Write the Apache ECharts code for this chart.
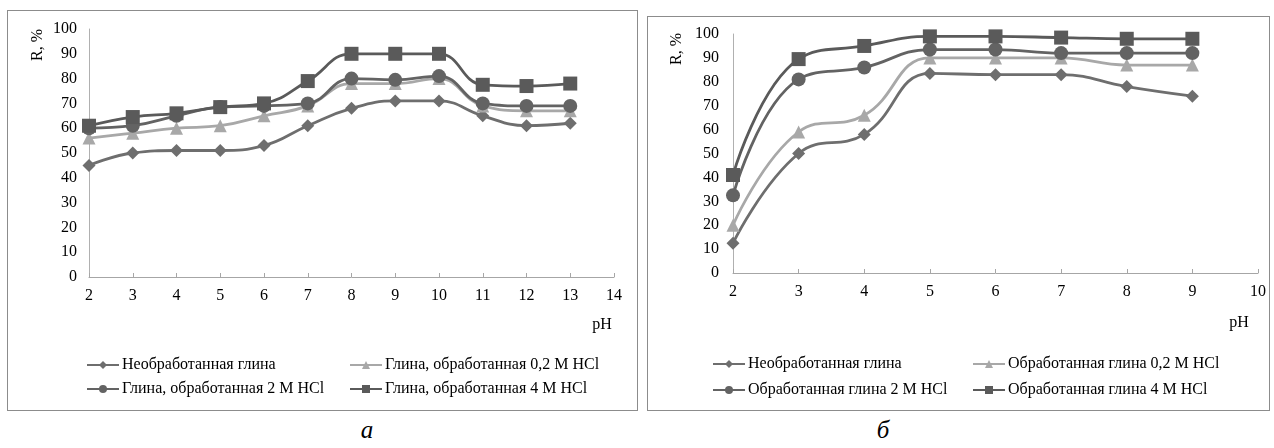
<!DOCTYPE html>
<html>
<head>
<meta charset="utf-8">
<script src="https://cdn.jsdelivr.net/npm/echarts@6/dist/echarts.min.js"></script>
<style>
  body { margin: 0; background: #fff; width: 1274px; height: 448px; position: relative; overflow: hidden; }
  .panel { position: absolute; box-sizing: border-box; border: 1px solid #8c8c8c; }
  #chartA { left: 7px; top: 10px; width: 631px; height: 401px; }
  #chartB { left: 647px; top: 16px; width: 623px; height: 395px; }
  .cap { position: absolute; font-family: "Liberation Serif", serif; font-style: italic; font-size: 25px; color: #000; transform: translate(-50%, -50%); }
</style>
</head>
<body>
<div id="chartA" class="panel"></div>
<div id="chartB" class="panel"></div>
<div class="cap" style="left:367px; top:430px;">a</div>
<div class="cap" style="left:883px; top:430px;">б</div>
<script>
// панель а
const phA = [2, 3, 4, 5, 6, 7, 8, 9, 10, 11, 12, 13]
const rawA = [45, 50, 51, 51, 53, 61, 68, 71, 71, 65, 61, 62]
const hcl02A = [56, 58, 60, 61, 65, 69, 78, 78, 80, 69, 67, 67]
const hcl2A = [60, 61, 65, 68.5, 69, 70, 80, 79.5, 81, 70, 69, 69]
const hcl4A = [61, 64.5, 66, 68.5, 70, 79, 90, 90, 90, 77.5, 77, 78]
const namesA = ['Необработанная глина', 'Глина, обработанная 0,2 М HCl', 'Глина, обработанная 2 М HCl', 'Глина, обработанная 4 М HCl']

// панель б
const phB = [2, 3, 4, 5, 6, 7, 8, 9]
const rawB = [12.5, 50, 58, 83.5, 83, 83, 78, 74]
const hcl02B = [20, 59, 66, 90, 90, 90, 87, 87]
const hcl2B = [32.5, 81, 86, 93.5, 93.5, 92, 92, 92]
const hcl4B = [41, 89.5, 95, 99, 99, 98.5, 98, 98]
const namesB = ['Необработанная глина', 'Обработанная глина 0,2 М HCl', 'Обработанная глина 2 М HCl', 'Обработанная глина 4 М HCl']

const font = 'Liberation Serif'
const colors = ['#6e6e6e', '#a8a8a8', '#636363', '#5a5a5a']
const symbols = ['diamond', 'triangle', 'circle', 'rect']
const sizes = [13, 13, 14, 14]

function makeSeries(names, ph, lists) {
  return lists.map((vals, i) => ({
    name: names[i],
    type: 'line',
    smooth: 0.45,
    data: ph.map((x, k) => [x, vals[k]]),
    symbol: symbols[i],
    symbolSize: sizes[i],
    showAllSymbol: true,
    z: 2 + (i === 1 ? 0 : i),
    lineStyle: { color: colors[i], width: 2.8 },
    itemStyle: { color: colors[i] },
    emphasis: { disabled: true }
  }))
}

function makeLegends(names, cols, rows) {
  // 2 x 2 как в Excel
  return names.map((n, i) => ({
    data: [n],
    left: cols[i % 2],
    top: rows[Math.floor(i / 2)],
    selectedMode: false,
    itemWidth: 32,
    itemHeight: 10,
    padding: 0,
    textStyle: { fontFamily: font, fontSize: 16, color: '#000', padding: [0, 0, 0, -2] }
  }))
}

function makeOption(cfg) {
  return {
    animation: false,
    grid: { left: cfg.grid[0], top: cfg.grid[1], width: cfg.grid[2], height: cfg.grid[3] },
    xAxis: {
      type: 'value',
      min: 2,
      max: cfg.xMax,
      interval: 1,
      splitLine: { show: false },
      axisLine: { lineStyle: { color: '#a6a6a6', width: 1 } },
      axisTick: { show: true, inside: true, length: 4, lineStyle: { color: '#a6a6a6' } },
      axisLabel: { color: '#000', fontFamily: font, fontSize: 16, margin: 11 }
    },
    yAxis: {
      type: 'value',
      min: 0,
      max: 100,
      interval: 10,
      splitLine: { show: false },
      axisLine: { show: true, lineStyle: { color: '#b0b0b0', width: 1 } },
      axisTick: { show: false },
      axisLabel: { color: '#000', fontFamily: font, fontSize: 16, margin: cfg.yMargin }
    },
    legend: makeLegends(cfg.names, cfg.legCols, cfg.legRows),
    graphic: [
      {
        type: 'text', x: cfg.rPos[0], y: cfg.rPos[1], rotation: Math.PI / 2,
        style: { text: 'R, %', fontFamily: font, fontSize: 16, fill: '#000', align: 'center', verticalAlign: 'middle' }
      },
      {
        type: 'text', x: cfg.phPos[0], y: cfg.phPos[1],
        style: { text: 'pH', fontFamily: font, fontSize: 16, fill: '#000', align: 'center', verticalAlign: 'middle' }
      }
    ],
    series: cfg.series
  }
}

const chartA = echarts.init(document.getElementById('chartA'))
chartA.setOption(makeOption({
  grid: [81, 18, 525, 248],
  xMax: 14,
  yMargin: 12,
  names: namesA,
  legCols: [78, 341],
  legRows: [346, 370],
  rPos: [30, 34],
  phPos: [594, 314],
  series: makeSeries(namesA, phA, [rawA, hcl02A, hcl2A, hcl4A])
}))

const chartB = echarts.init(document.getElementById('chartB'))
chartB.setOption(makeOption({
  grid: [85, 17, 526, 239],
  xMax: 10,
  yMargin: 14,
  names: namesB,
  legCols: [64, 324],
  legRows: [339, 365],
  rPos: [29, 32],
  phPos: [591, 306],
  series: makeSeries(namesB, phB, [rawB, hcl02B, hcl2B, hcl4B])
}))
</script>
</body>
</html>
